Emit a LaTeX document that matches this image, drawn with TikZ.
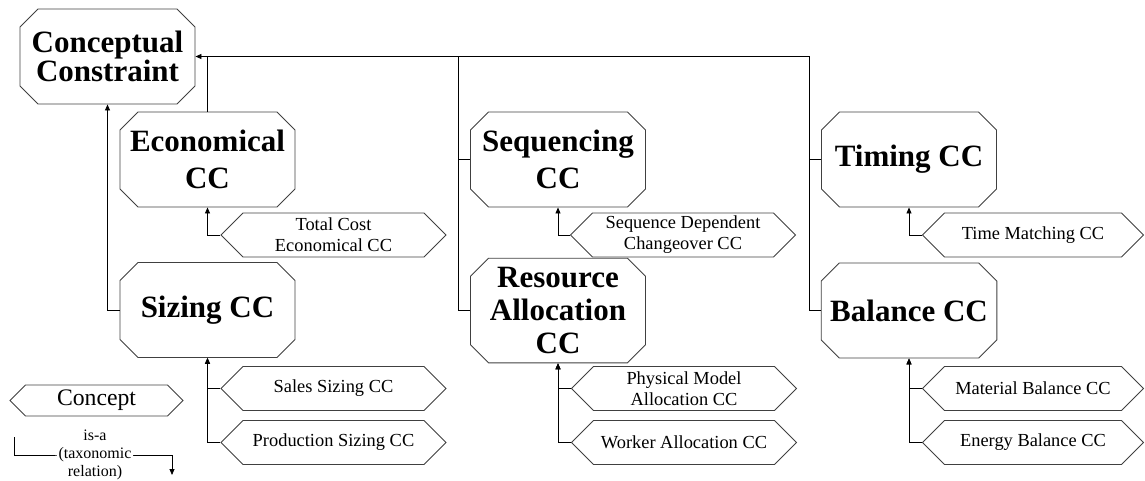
\documentclass[tikz,border=0pt]{standalone}
\usepackage{fontspec}
\setmainfont{Liberation Serif}
\usetikzlibrary{shapes.misc,shapes.symbols,arrows.meta}

\tikzset{
  concept/.style={draw=black!75, line width=0.9pt, chamfered rectangle, chamfered rectangle sep=9pt,
    minimum width=175pt, minimum height=95pt, inner sep=0pt, align=center,
    font=\fontsize{31}{37}\selectfont\bfseries},
  subconcept/.style={draw=black!75, line width=0.9pt, signal, signal to=west and east, signal pointer angle=90,
    minimum width=225pt, minimum height=44pt, inner sep=0pt, align=center,
    font=\fontsize{18.4}{21}\selectfont},
  isa/.style={-{Triangle[length=6pt,width=5pt]}, line width=0.8pt}
}

\begin{document}
\begin{tikzpicture}[x=1pt,y=-1pt]
      \useasboundingbox (0,0) rectangle (1145,481);

      \node[concept, font=\fontsize{31}{29}\selectfont\bfseries] (cc) at (107.5,56.5) {Conceptual\\Constraint};
      \node[concept] (econ) at (207.5,159.5) {Economical\\CC};
      \node[concept] (sizing) at (207.5,310) {Sizing CC};
      \node[concept] (seq) at (558,159.5) {Sequencing\\CC};
      \node[concept, font=\fontsize{31}{33}\selectfont\bfseries] (res) at (558,310.5) {Resource\\Allocation\\CC};
      \node[concept] (timing) at (909,159.5) {Timing CC};
      \node[concept] (balance) at (909,310.5) {Balance CC};

      \node[subconcept] (totalcost) at (333.5,235) {Total Cost\\Economical CC};
      \node[subconcept] (sales) at (333.5,388.5) {Sales Sizing CC};
      \node[subconcept] (production) at (333.5,442.5) {Production Sizing CC};
      \node[subconcept] (sequencedep) at (683,235) {Sequence Dependent\\Changeover CC};
      \node[subconcept] (physical) at (684,388.5) {Physical Model\\Allocation CC};
      \node[subconcept] (worker) at (684,442.5) {Worker Allocation CC};
      \node[subconcept, minimum width=221pt] (timematch) at (1033,235) {Time Matching CC};
      \node[subconcept, minimum width=221pt] (material) at (1033,388.5) {Material Balance CC};
      \node[subconcept, minimum width=221pt] (energy) at (1033,442.5) {Energy Balance CC};

      \coordinate (barmid) at (458,56.5);
      \coordinate (barend) at (809,56.5);
      \draw[isa] (balance.west) -| (barend) -- (cc.east);
      \draw (timing.west) -- (timing.west -| barend);
      \draw (res.west) -| (barmid);
      \draw (seq.west) -- (seq.west -| barmid);
      \draw (econ.north) -- (econ.north |- cc.east);
      \draw[isa] (sizing.west) -| (cc.south);

      \draw[isa] (totalcost.west) -| (econ.south);
      \draw[isa] (sales.west) -| (sizing.south);
      \draw[isa] (production.west) -| (sizing.south);
      \draw[isa] (sequencedep.west) -| (seq.south);
      \draw[isa] (physical.west) -| (res.south);
      \draw[isa] (worker.west) -| (res.south);
      \draw[isa] (timematch.west) -| (timing.south);
      \draw[isa] (material.west) -| (balance.south);
      \draw[isa] (energy.west) -| (balance.south);

      \node[subconcept, minimum width=173pt, minimum height=31pt, font=\fontsize{23.7}{28}\selectfont] (legend) at (96.5,400.5) {Concept};
      \coordinate (isastart) at (14,437);
      \coordinate (isaend) at (172,475);
      \draw[isa] (isastart) |- (95,455) -| (isaend);
      \node[fill=white, inner sep=2pt, align=center, font=\fontsize{16}{18}\selectfont] (isalabel) at (95,455) {is-a\\(taxonomic\\relation)};
    \end{tikzpicture}
\end{document}
